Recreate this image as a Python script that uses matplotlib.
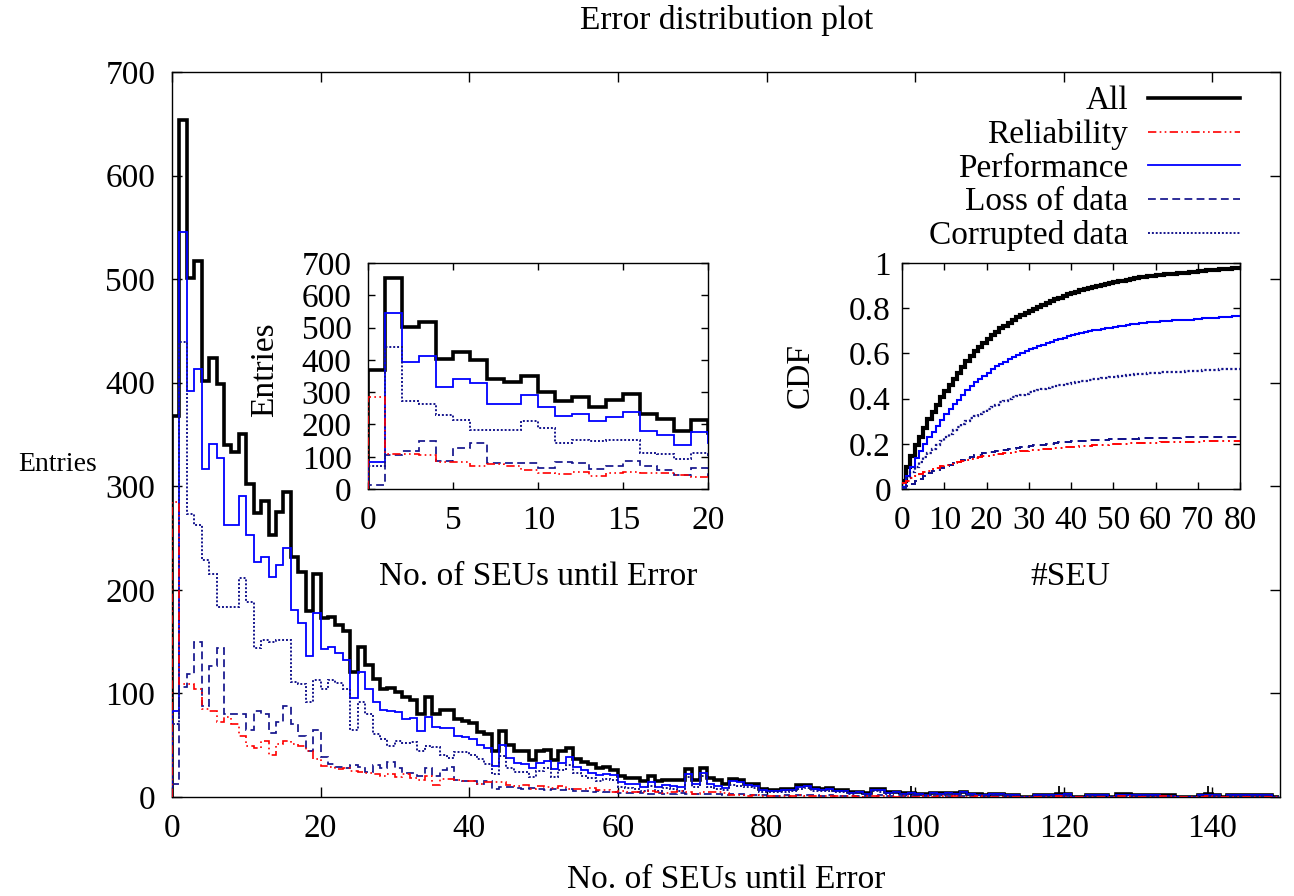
import numpy as np
import matplotlib
matplotlib.use('Agg')
import matplotlib.pyplot as plt

plt.rcParams['font.family'] = ['Liberation Serif', 'DejaVu Serif']
plt.rcParams['font.size'] = 24

# entries per bin (bin width 1 SEU, bins 0..148)
reliability = np.array([
    285, 109, 109, 104, 85, 83, 72, 77, 70, 59, 49, 47, 54, 41, 51, 54, 51, 49, 44, 37,
    30, 29, 27, 28, 25, 24, 23, 22, 20, 22, 19, 22, 18, 16, 20, 12, 17, 17, 16, 15, 15, 13, 14, 14, 14,
    12, 11, 12, 8, 11, 10, 9, 11, 8, 8, 8, 9, 7, 7, 5, 6, 5, 5, 5, 6, 5, 4, 5, 6, 5, 3, 5, 5, 5, 4,
    2, 2, 1, 2, 1, 1, 1, 1, 1, 2, 1, 1, 1, 1, 1, 1, 1, 0, 1, 1, 1, 1, 0, 1, 0, 0, 1, 0, 1, 0, 1, 0, 0, 1, 0,
    0, 0, 0, 0, 0, 0, 0, 0, 0, 1, 0, 0, 0, 0, 0, 0, 0, 1, 1, 0, 0, 0, 0, 1, 1, 0, 0, 0, 0, 1, 0, 0, 0, 0, 0, 0, 0, 0, 0,
])
loss_of_data = np.array([
    13, 106, 119, 150, 88, 126, 144, 80, 80, 80, 65, 83, 80, 62, 72, 88, 70, 59, 44, 65,
    39, 32, 29, 28, 31, 29, 24, 31, 28, 34, 28, 23, 23, 20, 28, 20, 26, 29, 16, 15, 15, 13, 15, 8, 10,
    10, 9, 8, 9, 8, 7, 8, 7, 8, 6, 6, 5, 6, 5, 5, 4, 4, 5, 4, 3, 4, 3, 3, 4, 3, 3, 3, 3, 3, 2,
    3, 3, 2, 2, 2, 1, 1, 2, 1, 2, 2, 2, 1, 2, 1, 1, 1, 1, 1, 1, 2, 1, 1, 1, 1, 1, 0, 1, 1, 1, 1, 1, 1, 0, 1,
    1, 1, 1, 1, 0, 0, 1, 1, 1, 1, 1, 0, 0, 1, 1, 1, 0, 1, 1, 1, 1, 1, 1, 0, 0, 0, 0, 0, 1, 1, 1, 0, 1, 1, 1, 1, 1, 1, 0,
])
corrupted_data = np.array([
    70, 439, 273, 263, 229, 215, 183, 183, 183, 211, 188, 144, 152, 150, 152, 152, 111, 109, 92, 113,
    104, 113, 110, 104, 65, 92, 80, 61, 56, 49, 54, 52, 53, 44, 49, 48, 41, 38, 43, 43, 41, 37, 32, 22, 40,
    28, 24, 24, 19, 25, 28, 19, 26, 31, 23, 20, 18, 15, 17, 16, 10, 9, 8, 6, 11, 6, 9, 8, 6, 19, 10, 20, 10, 8, 7,
    12, 11, 10, 9, 5, 5, 5, 5, 6, 8, 9, 6, 6, 6, 5, 5, 3, 4, 2, 6, 5, 3, 4, 2, 3, 2, 2, 3, 2, 3, 2, 4, 2, 2, 1,
    2, 2, 1, 1, 0, 0, 1, 1, 1, 1, 2, 0, 0, 1, 1, 1, 0, 1, 1, 1, 1, 1, 1, 1, 1, 0, 0, 0, 1, 1, 1, 0, 1, 1, 1, 1, 1, 1, 0,
])
performance = loss_of_data + corrupted_data
all_errors = reliability + performance

# narrow single spikes in the tail of "All"
spike_pos = [99.4, 119.4, 139.4]
spike_top = [11, 11, 11]

edges = np.arange(len(all_errors) + 1)
navy = '#14148c'
series = [
    ('All', all_errors, 'black', 2.6, '-', 2),
    ('Reliability', reliability, '#ff0000', 1.2, (0, (5, 2, 1, 2, 1, 2)), 6),
    ('Performance', performance, '#0000ff', 1.3, '-', 3),
    ('Loss of data', loss_of_data, navy, 1.25, (0, (4.5, 2.5)), 5),
    ('Corrupted data', corrupted_data, navy, 1.4, (0, (1, 1)), 4),
]


def style_axes(ax, length):
    ax.tick_params(direction='in', top=True, right=True, length=length, width=1.0)
    for sp in ax.spines.values():
        sp.set_linewidth(1.0)


fig = plt.figure(figsize=(12.94, 8.96), dpi=100)

# main histogram
ax = fig.add_axes([0.1329, 0.1105, 0.8563, 0.8092])
for label, vals, col, lw, ls, z in series:
    ax.stairs(vals, edges, baseline=0, color=col, lw=lw, linestyle=ls,
              zorder=z, label=label)
ax.vlines(spike_pos, 0, spike_top, color='black', lw=1.3, zorder=2)
ax.set_xlim(0, 149.1)
ax.set_ylim(0, 700)
ax.set_xticks(np.arange(0, 141, 20))
ax.set_yticks(np.arange(0, 701, 100))
style_axes(ax, 7)
ax.tick_params(axis='x', pad=12)
ax.tick_params(axis='y', pad=12)
ax.set_xlabel('No. of SEUs until Error', va='center')
ax.xaxis.set_label_coords(0.5, -0.1145)
ax.set_ylabel('Entries', rotation=0, ha='center', va='center', fontsize=20)
ax.yaxis.set_label_coords(-0.103, 0.458)
fig.text(0.5618, 0.977, 'Error distribution plot', ha='center', va='center')

leg = ax.legend(loc='upper right', bbox_to_anchor=(0.964, 0.981), frameon=False,
                markerfirst=False, handlelength=2.76, handletextpad=0.6,
                labelspacing=0.09, borderpad=0, borderaxespad=0)

# inset: first 20 bins
ax1 = fig.add_axes([0.2846, 0.4542, 0.2628, 0.2522])
for label, vals, col, lw, ls, z in series:
    ax1.stairs(vals, edges, baseline=0, color=col, lw=lw, linestyle=ls, zorder=z)
ax1.set_xlim(0, 20)
ax1.set_ylim(0, 700)
ax1.set_xticks(np.arange(0, 21, 5))
ax1.set_yticks(np.arange(0, 701, 100))
style_axes(ax1, 5)
ax1.tick_params(axis='x', pad=12)
ax1.tick_params(axis='y', pad=12)
ax1.set_xlabel('No. of SEUs until Error', va='center')
ax1.xaxis.set_label_coords(0.5, -0.389)
ax1.set_ylabel('Entries', va='center')
ax1.yaxis.set_label_coords(-0.303, 0.527)

# inset: cumulative distribution
ax2 = fig.add_axes([0.6971, 0.4542, 0.2612, 0.2522])
total = all_errors.sum()
cdf_edges = np.arange(81)
for label, vals, col, lw, ls, z in series:
    cdf = np.cumsum(vals) / total
    ax2.stairs(cdf[:80], cdf_edges, baseline=None, color=col,
               lw=lw * 1.15, linestyle=ls, zorder=z)
ax2.set_xlim(0, 80)
ax2.set_ylim(0, 1)
ax2.set_xticks(np.arange(0, 81, 10))
ax2.set_yticks([0, 0.2, 0.4, 0.6, 0.8, 1])
ax2.set_yticklabels(['0', '0.2', '0.4', '0.6', '0.8', '1'])
style_axes(ax2, 5)
ax2.tick_params(axis='x', pad=12)
ax2.tick_params(axis='y', pad=8)
ax2.set_xlabel('#SEU', va='center')
ax2.xaxis.set_label_coords(0.497, -0.389)
ax2.set_ylabel('CDF', va='center')
ax2.yaxis.set_label_coords(-0.302, 0.504)

fig.savefig('out.png', dpi=100)
